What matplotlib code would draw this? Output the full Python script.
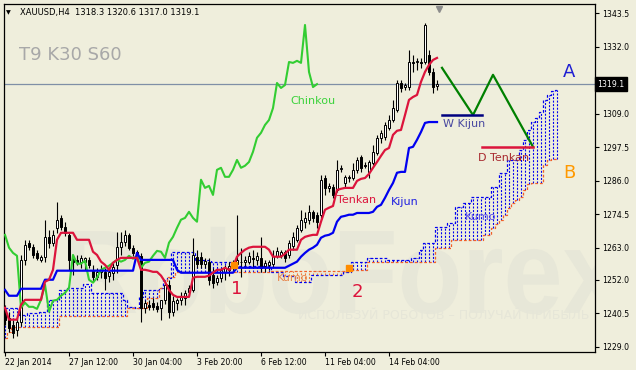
import matplotlib
matplotlib.use('Agg')
import matplotlib.pyplot as plt
from matplotlib.transforms import blended_transform_factory, Affine2D
from matplotlib.textpath import TextPath
from matplotlib.patches import PathPatch
from matplotlib.font_manager import FontProperties

# XAUUSD H4 candles, one entry per bar (bar 0 = 22 Jan 2014)
opens = [1241.7, 1239.0, 1236.6, 1234.8, 1237.6, 1258.8, 1264.7, 1263.3, 1261.2, 1258.8,
         1259.9, 1266.7, 1264.7, 1269.8, 1273.2, 1270.2, 1267.4, 1259.5, 1258.8, 1258.2,
         1258.2, 1258.8, 1255.4, 1253.0, 1254.7, 1254.7, 1253.4, 1254.4, 1257.1, 1263.3,
         1265.0, 1267.4, 1263.0, 1261.6, 1260.2, 1242.4, 1243.4, 1244.1, 1243.1, 1242.4,
         1245.1, 1250.3, 1241.0, 1244.1, 1245.1, 1245.8, 1247.9, 1248.5, 1259.9, 1259.9,
         1257.5, 1258.2, 1253.7, 1251.3, 1252.7, 1254.7, 1255.4, 1256.8, 1257.5, 1258.2,
         1258.2, 1258.2, 1259.5, 1258.8, 1259.5, 1256.8, 1257.1, 1257.5, 1260.2, 1260.5,
         1261.6, 1260.5, 1263.6, 1265.7, 1269.1, 1271.9, 1272.6, 1275.3, 1274.3, 1274.3,
         1286.9, 1283.5, 1283.9, 1282.8, 1290.0, 1285.2, 1286.9, 1286.9, 1289.7, 1294.1,
         1291.4, 1289.0, 1292.1, 1295.5, 1300.7, 1301.0, 1304.1, 1306.8, 1310.3, 1319.5,
         1318.1, 1318.1, 1326.7, 1326.7, 1326.7, 1326.7, 1329.1, 1323.3, 1318.3]
highs = [1243.4, 1241.0, 1238.3, 1239.0, 1260.5, 1265.7, 1265.7, 1264.3, 1262.3, 1260.5,
         1272.6, 1269.1, 1269.1, 1278.7, 1274.3, 1271.9, 1268.1, 1260.5, 1260.5, 1260.5,
         1259.9, 1259.9, 1257.1, 1256.1, 1257.1, 1256.1, 1256.1, 1258.2, 1268.4, 1268.4,
         1269.1, 1268.1, 1264.0, 1262.3, 1261.2, 1245.1, 1245.1, 1245.8, 1244.4, 1245.1,
         1251.3, 1252.0, 1246.5, 1245.8, 1247.9, 1248.5, 1250.3, 1266.4, 1262.3, 1261.6,
         1259.5, 1259.5, 1256.1, 1253.7, 1256.1, 1257.1, 1258.2, 1258.8, 1274.3, 1263.0,
         1260.2, 1261.6, 1262.3, 1261.6, 1266.7, 1258.8, 1258.8, 1262.3, 1263.3, 1262.3,
         1262.3, 1265.7, 1268.4, 1270.8, 1276.0, 1275.3, 1277.7, 1276.0, 1275.3, 1288.0,
         1288.0, 1285.2, 1284.9, 1293.1, 1291.4, 1288.0, 1288.0, 1292.1, 1294.1, 1294.8,
         1292.4, 1293.1, 1298.3, 1301.7, 1303.4, 1306.1, 1308.5, 1313.7, 1320.5, 1320.5,
         1319.5, 1330.8, 1329.1, 1328.1, 1328.1, 1340.1, 1330.8, 1324.7, 1320.6]
lows = [1236.6, 1234.2, 1232.1, 1232.8, 1236.2, 1257.1, 1262.3, 1259.5, 1258.8, 1258.2,
        1258.2, 1263.0, 1263.6, 1268.1, 1269.1, 1267.1, 1255.4, 1253.7, 1257.1, 1256.1,
        1255.4, 1256.1, 1251.3, 1252.0, 1252.7, 1248.5, 1251.3, 1252.0, 1254.4, 1260.5,
        1263.6, 1262.3, 1260.2, 1258.8, 1237.6, 1240.7, 1241.7, 1241.7, 1241.0, 1238.3,
        1243.7, 1239.0, 1239.6, 1241.7, 1243.4, 1243.4, 1246.5, 1247.9, 1256.1, 1256.1,
        1256.1, 1250.3, 1249.2, 1250.3, 1251.3, 1252.0, 1253.4, 1254.7, 1256.1, 1253.0,
        1256.8, 1257.5, 1256.1, 1257.1, 1254.7, 1254.7, 1255.4, 1256.1, 1259.5, 1259.5,
        1258.2, 1259.5, 1262.3, 1265.0, 1268.4, 1269.8, 1271.2, 1271.9, 1269.8, 1273.2,
        1281.1, 1282.1, 1280.1, 1282.1, 1289.0, 1283.5, 1285.6, 1286.3, 1288.7, 1289.0,
        1290.4, 1286.9, 1291.4, 1294.8, 1298.9, 1300.0, 1303.4, 1306.1, 1309.6, 1316.4,
        1317.1, 1317.1, 1323.3, 1324.0, 1324.7, 1326.0, 1322.3, 1316.1, 1317.0]
closes = [1238.3, 1235.5, 1233.8, 1237.6, 1258.8, 1264.0, 1263.3, 1260.5, 1259.5, 1259.9,
          1266.7, 1264.7, 1267.4, 1272.6, 1270.2, 1268.1, 1258.8, 1258.2, 1258.2, 1259.5,
          1259.5, 1257.1, 1253.0, 1254.7, 1255.4, 1252.7, 1254.7, 1256.4, 1263.3, 1265.0,
          1267.4, 1263.0, 1261.2, 1260.2, 1242.4, 1244.1, 1242.7, 1242.7, 1242.0, 1245.1,
          1250.3, 1241.0, 1244.8, 1245.1, 1246.5, 1247.5, 1249.2, 1260.5, 1257.5, 1257.5,
          1258.5, 1252.0, 1251.0, 1252.7, 1255.4, 1256.1, 1256.8, 1257.8, 1258.8, 1258.2,
          1258.8, 1260.2, 1259.2, 1260.2, 1256.1, 1257.8, 1258.2, 1260.2, 1261.9, 1261.6,
          1259.5, 1264.7, 1266.7, 1269.8, 1272.6, 1273.2, 1275.3, 1273.2, 1271.9, 1286.3,
          1283.5, 1284.2, 1281.1, 1289.7, 1290.4, 1287.3, 1287.3, 1289.7, 1293.1, 1290.4,
          1291.1, 1292.4, 1295.9, 1300.7, 1302.4, 1305.1, 1306.8, 1310.9, 1319.5, 1317.8,
          1318.8, 1326.7, 1326.4, 1327.1, 1326.4, 1339.4, 1323.3, 1318.1, 1319.1]

# ichimoku lines as shown on the chart
tenkan = [1242.4, 1238.3, 1238.3, 1238.3, 1243.4, 1245.1, 1245.1, 1245.1, 1245.1, 1245.1,
          1251.3, 1252.0, 1255.4, 1265.7, 1268.1, 1268.1, 1268.1, 1268.1, 1265.7, 1265.7,
          1265.7, 1265.7, 1261.6, 1260.5, 1258.2, 1257.1, 1255.4, 1257.8, 1258.8, 1259.5,
          1259.5, 1259.5, 1259.5, 1259.5, 1255.4, 1255.4, 1255.1, 1254.7, 1254.7, 1253.4,
          1251.3, 1248.5, 1246.8, 1246.1, 1246.1, 1246.1, 1246.1, 1252.7, 1253.0, 1253.0,
          1253.0, 1253.4, 1254.4, 1255.4, 1255.4, 1256.1, 1255.4, 1256.4, 1259.9, 1261.2,
          1262.3, 1263.0, 1263.3, 1263.3, 1263.3, 1263.3, 1262.3, 1259.9, 1259.9, 1259.9,
          1260.9, 1262.3, 1262.3, 1262.3, 1265.7, 1266.7, 1267.1, 1267.4, 1267.4, 1271.9,
          1276.0, 1276.7, 1277.3, 1282.8, 1283.2, 1283.5, 1283.5, 1283.5, 1285.9, 1286.6,
          1286.9, 1288.3, 1290.4, 1292.4, 1294.5, 1296.5, 1297.2, 1301.7, 1303.1, 1303.4,
          1308.5, 1313.7, 1314.7, 1315.4, 1319.9, 1323.3, 1325.7, 1327.4, 1328.1]
kijun = [1248.5, 1246.5, 1246.5, 1246.5, 1248.9, 1248.9, 1248.9, 1248.9, 1248.9, 1248.9,
         1252.0, 1252.0, 1252.0, 1255.1, 1255.1, 1255.1, 1255.1, 1255.1, 1255.1, 1255.1,
         1255.1, 1255.1, 1255.1, 1255.1, 1255.1, 1255.1, 1255.1, 1255.1, 1255.1, 1255.1,
         1255.1, 1255.1, 1255.1, 1261.2, 1258.8, 1258.8, 1258.8, 1258.8, 1258.8, 1258.8,
         1258.8, 1258.8, 1258.8, 1255.4, 1254.4, 1254.4, 1254.4, 1254.4, 1254.4, 1254.4,
         1254.4, 1254.4, 1254.4, 1254.4, 1254.4, 1254.4, 1254.4, 1254.4, 1256.1, 1256.1,
         1256.1, 1256.1, 1256.1, 1256.1, 1256.1, 1256.1, 1256.1, 1256.1, 1256.1, 1256.1,
         1256.1, 1256.8, 1257.5, 1258.2, 1259.9, 1261.2, 1262.3, 1263.0, 1264.0, 1266.4,
         1267.1, 1267.4, 1268.1, 1271.9, 1273.6, 1273.9, 1274.3, 1274.3, 1274.9, 1274.9,
         1274.9, 1274.9, 1275.3, 1277.0, 1277.7, 1280.1, 1282.8, 1285.2, 1288.7, 1289.0,
         1289.0, 1297.2, 1297.6, 1300.0, 1302.7, 1305.8, 1306.1, 1306.1, 1306.1]
# senkou spans, already shifted 30 bars forward (bars 0..138)
senkou_a = [1242.4, 1242.4, 1242.4, 1242.4, 1240.0, 1240.0, 1240.7, 1240.7, 1240.7, 1241.0,
            1241.0, 1245.1, 1245.1, 1245.1, 1248.5, 1248.5, 1249.2, 1249.2, 1249.2, 1249.2,
            1250.6, 1250.6, 1247.5, 1247.5, 1247.5, 1247.5, 1247.5, 1247.5, 1247.5, 1247.5,
            1245.1, 1242.7, 1242.7, 1242.4, 1246.1, 1248.5, 1248.5, 1248.5, 1248.5, 1249.2,
            1252.0, 1252.7, 1261.6, 1261.6, 1261.6, 1261.6, 1261.6, 1261.6, 1258.8, 1258.8,
            1258.8, 1258.8, 1258.2, 1258.2, 1258.2, 1258.2, 1258.2, 1256.8, 1256.8, 1256.8,
            1256.8, 1256.8, 1256.8, 1256.8, 1256.8, 1256.8, 1256.8, 1254.7, 1254.7, 1254.7,
            1253.4, 1253.4, 1253.4, 1251.3, 1251.3, 1251.3, 1251.3, 1253.7, 1253.7, 1253.7,
            1253.7, 1253.7, 1253.7, 1253.7, 1253.7, 1254.7, 1254.7, 1258.2, 1258.2, 1258.2,
            1258.2, 1259.5, 1259.5, 1259.5, 1259.5, 1259.5, 1258.8, 1258.8, 1258.8, 1258.8,
            1258.8, 1258.8, 1259.5, 1259.5, 1262.3, 1264.7, 1264.7, 1264.7, 1270.2, 1270.2,
            1270.2, 1271.5, 1271.5, 1277.0, 1277.0, 1278.4, 1278.4, 1280.4, 1280.4, 1280.4,
            1280.4, 1280.4, 1283.9, 1283.9, 1288.7, 1288.7, 1293.1, 1293.1, 1293.1, 1296.5,
            1300.0, 1303.4, 1306.1, 1307.5, 1309.6, 1313.7, 1315.4, 1316.8, 1317.1]
senkou_b = [1232.1, 1234.2, 1235.9, 1235.9, 1235.9, 1235.9, 1235.9, 1235.9, 1235.9, 1235.9,
            1235.9, 1235.9, 1235.9, 1235.9, 1239.6, 1239.6, 1239.6, 1239.6, 1239.6, 1239.6,
            1239.6, 1239.6, 1239.6, 1239.6, 1239.6, 1239.6, 1239.6, 1239.6, 1239.6, 1239.6,
            1239.6, 1242.4, 1242.4, 1242.4, 1242.4, 1242.4, 1245.8, 1245.8, 1245.8, 1249.2,
            1249.2, 1253.0, 1253.0, 1254.7, 1254.7, 1254.7, 1254.7, 1254.7, 1254.7, 1254.7,
            1254.7, 1254.7, 1254.7, 1254.7, 1254.7, 1254.7, 1254.7, 1254.7, 1254.7, 1254.7,
            1254.7, 1254.7, 1254.7, 1254.7, 1254.7, 1254.7, 1254.7, 1255.1, 1255.1, 1255.1,
            1255.1, 1255.1, 1255.1, 1255.1, 1255.1, 1255.1, 1255.1, 1255.1, 1255.1, 1255.1,
            1255.1, 1255.1, 1255.1, 1255.1, 1255.1, 1255.1, 1256.1, 1255.4, 1255.4, 1255.4,
            1255.4, 1258.2, 1258.2, 1258.2, 1258.2, 1258.2, 1258.2, 1258.2, 1258.2, 1258.2,
            1258.2, 1258.2, 1258.2, 1258.2, 1258.2, 1258.2, 1258.2, 1258.2, 1263.0, 1263.0,
            1263.0, 1263.0, 1265.7, 1265.7, 1265.7, 1265.7, 1265.7, 1265.7, 1265.7, 1265.7,
            1267.4, 1267.4, 1269.8, 1271.2, 1272.6, 1274.3, 1276.7, 1278.4, 1279.4, 1280.4,
            1282.8, 1284.9, 1285.2, 1285.2, 1285.2, 1291.4, 1293.1, 1293.5, 1293.5]
chinkou_shift = 30

date_bars = [0, 16, 32, 48, 64, 80, 96]
date_labels = ['22 Jan 2014', '27 Jan 12:00', '30 Jan 04:00', '3 Feb 20:00',
               '6 Feb 12:00', '11 Feb 04:00', '14 Feb 04:00']
price_ticks = [1229.0, 1240.5, 1252.0, 1263.0, 1274.5, 1286.0, 1297.5, 1309.0, 1320.5, 1332.0, 1343.5]
last_price = 1319.1

# drawn-in forecast
zigzag_bars = [109.25, 117, 122, 132]
zigzag_prices = [1324.7, 1308.5, 1322.3, 1297.6]
w_kijun_bars = [109.25, 119.25]
w_kijun_level = 1308.5
d_tenkan_bars = [119.25, 132]
d_tenkan_level = 1297.6
signal_bars = [57.25, 86]
signal_prices = [1257.1, 1256.1]

BG = '#EFEEDC'
BLUE = '#0000F0'
RED = '#DC143C'
ORANGE = '#F2602A'

fig = plt.figure(figsize=(6.36, 3.70), dpi=100, facecolor=BG)
ax = fig.add_axes([4 / 636, 18 / 370, 591 / 636, 348 / 370], facecolor=BG)
ax.set_xlim(-0.25, 147.5)
ax.set_ylim(1227.2, 1346.6)

# faint watermark, squeezed a bit like the original logo font
wm = TextPath((0, 0), 'RoboForex', size=1,
              prop=FontProperties(family='Liberation Sans', weight='bold'))
wm_patch = PathPatch(wm, fc='#E7E7D8', ec='none', zorder=0,
                     transform=Affine2D().scale(106, 119).translate(62, 57))
ax.add_patch(wm_patch)
wm_patch.set_clip_path(ax.patch)
ax.text(73.3, 1238.5, 'ИСПОЛЬЗУЙ РОБОТОВ – ПОЛУЧАЙ ПРИБЫЛЬ', fontsize=9,
        color='#E6E6D8', va='baseline', zorder=0)

# kumo: dotted hatch between the spans, colour by which span is on top
cloud_x = list(range(len(senkou_a)))
hatch_lo = [min(a, b) for a, b in zip(senkou_a, senkou_b)]
hatch_hi = [max(a, b) for a, b in zip(senkou_a, senkou_b)]
hatch_col = [BLUE if a >= b else '#F07A3A' for a, b in zip(senkou_a, senkou_b)]
ax.vlines(cloud_x, hatch_lo, hatch_hi, colors=hatch_col, linestyles=(0, (1.8, 1.4)),
          lw=0.8, zorder=1)
ax.plot(cloud_x, senkou_a, drawstyle='steps-mid', color=BLUE, lw=0.9,
        ls=(0, (2.2, 1.6)), zorder=1)
ax.plot(cloud_x, senkou_b, drawstyle='steps-mid', color=ORANGE, lw=0.9,
        ls=(0, (2.2, 1.6)), zorder=1)

ax.axhline(last_price, color='#7F8FA6', lw=0.9, zorder=2)

# candles
bars = list(range(len(closes)))
ax.vlines(bars, lows, highs, color='black', lw=0.8, zorder=3)
body_col = ['white' if c >= o else 'black' for o, c in zip(opens, closes)]
ax.bar(bars, [c - o for o, c in zip(opens, closes)], bottom=opens, width=0.72,
       color=body_col, edgecolor='black', lw=0.7, zorder=3)

# chinkou = closes drawn 30 bars back
ax.plot(bars[:len(closes) - chinkou_shift], closes[chinkou_shift:], color='#32CD32',
        lw=1.5, zorder=4)
ax.plot(bars, kijun, color=BLUE, lw=1.6, zorder=4)
ax.plot(bars, tenkan, color=RED, lw=1.6, zorder=5)

ax.plot(zigzag_bars, zigzag_prices, color='#008000', lw=1.6, zorder=5)
ax.plot(w_kijun_bars, [w_kijun_level] * 2, color='#000080', lw=1.8, zorder=5)
ax.plot(d_tenkan_bars, [d_tenkan_level] * 2, color=RED, lw=1.8, zorder=5)
ax.plot(signal_bars, signal_prices, 's', color='#FF8C00', ms=4.5, zorder=6)

# labels
ax.text(71.3, 1313.3, 'Chinkou', color='#3CD23C', fontsize=8, va='center', zorder=6)
ax.text(83, 1279.4, 'Tenkan', color=RED, fontsize=8, va='center', zorder=6)
ax.text(96.5, 1278.7, 'Kijun', color='#2020E0', fontsize=8, va='center', zorder=6)
ax.text(109.5, 1305.5, 'W Kijun', color='#4848A0', fontsize=8, va='center', zorder=6)
ax.text(118.25, 1293.8, 'D Tenkan', color='#A8282E', fontsize=8, va='center', zorder=6)
ax.text(115, 1273.6, 'Kumo', color='#5A4FE6', fontsize=8, va='center', zorder=6)
ax.text(68, 1252.7, 'Kumo', color='#E8844A', fontsize=8, va='center', zorder=6)
ax.text(58, 1248.9, '1', color=RED, fontsize=13, ha='center', va='center', zorder=6)
ax.text(88, 1247.9, '2', color=RED, fontsize=13, ha='center', va='center', zorder=6)
ax.text(141, 1323.3, 'A', color='#1E1ED2', fontsize=13, ha='center', va='center', zorder=6)
ax.text(141, 1288.7, 'B', color='#FF9900', fontsize=13, ha='center', va='center', zorder=6)

# axes look like the terminal window
for s in ax.spines.values():
    s.set_color('black')
    s.set_linewidth(0.9)
ax.yaxis.tick_right()
ax.set_yticks(price_ticks)
# the 1320.5 label sits under the current-price box
ax.set_yticklabels(['' if abs(p - last_price) < 3 else '%.1f' % p for p in price_ticks])
ax.set_xticks(date_bars)
ax.set_xticklabels(date_labels, ha='left')
ax.tick_params(axis='y', length=3, width=0.8, pad=2, labelsize=5.6, colors='black')
ax.tick_params(axis='x', length=3, width=0.8, pad=1.5, labelsize=5.6, colors='black')

tr = blended_transform_factory(ax.transAxes, ax.transData)
ax.text(1.004, last_price, '%.1f' % last_price, transform=tr, ha='left', va='center',
        color='white', fontsize=5.6, zorder=10, clip_on=False,
        bbox=dict(boxstyle='square,pad=0.3', fc='black', ec='black'))
ax.plot([108.5], [0.985], marker='v', color='#8C8C8C', ms=5,
        transform=blended_transform_factory(ax.transData, ax.transAxes),
        clip_on=False, zorder=10)

fig.text(8 / 636, 1 - 13 / 370, '▼', fontsize=4.5, va='center', ha='center')
fig.text(20 / 636, 1 - 13 / 370, 'XAUUSD,H4  1318.3 1320.6 1317.0 1319.1', fontsize=6,
         va='center')
fig.text(19 / 636, 1 - 55 / 370, 'T9 K30 S60', fontsize=13, color='#A8A8A8', va='center')

fig.savefig('out.png', dpi=100, facecolor=BG)
